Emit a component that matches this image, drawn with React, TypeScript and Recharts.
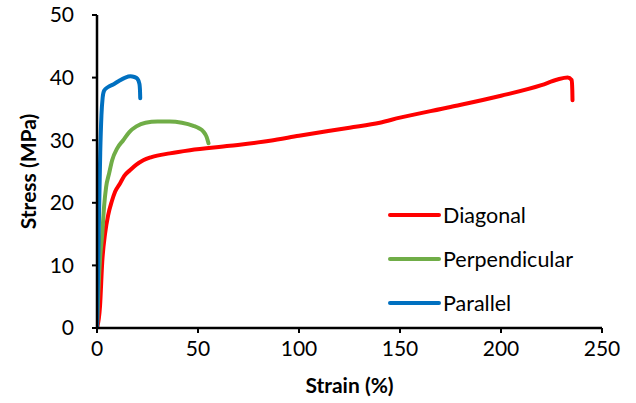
import { LineChart, Line, XAxis, YAxis, Legend, Label } from 'recharts'

// strain (%) / stress (MPa)
const diagonalStrain = [0, 1.5, 2.6, 4, 5.5, 7.3, 9, 11.4, 13.5, 16.3, 19.5, 22.9, 27, 36, 46, 65.8, 85.6, 100, 125, 140, 150, 175, 200, 220, 228, 233, 235, 235.3, 235.4]
const diagonalStress = [0, 3.5, 10.6, 15.1, 18, 20.2, 21.8, 23.1, 24.3, 25.2, 26.1, 26.8, 27.3, 27.9, 28.4, 29.1, 29.9, 30.7, 32, 32.8, 33.6, 35.3, 37.1, 38.8, 39.7, 40, 39.6, 38, 36.4]

const perpendicularStrain = [0, 0.7, 1.5, 2.6, 3.5, 4.5, 6, 7.5, 10, 13, 16, 19.5, 24, 30, 36, 42, 47.7, 50.5, 52.6, 54.3, 55.2]
const perpendicularStress = [0, 6, 11, 15, 19.4, 22.5, 24.7, 26.8, 28.7, 30, 31.3, 32.2, 32.8, 33, 33, 32.8, 32.3, 31.9, 31.4, 30.5, 29.5]

const parallelStrain = [0, 0.5, 1, 1.6, 2.2, 2.8, 3.5, 5.5, 8, 11, 14, 16.5, 18.5, 20, 21, 21.3, 21.4]
const parallelStress = [0, 8, 18, 28, 34, 36.8, 37.9, 38.5, 38.9, 39.5, 40, 40.2, 40.1, 39.8, 39, 37.8, 36.7]

const xTicks = [0, 50, 100, 150, 200, 250]
const yTicks = [0, 10, 20, 30, 40, 50]

const toPoints = (strain: number[], stress: number[]) =>
  strain.map((x, i) => ({ x, y: stress[i] }))

const series = [
  { name: 'Diagonal', color: '#FF0000', data: toPoints(diagonalStrain, diagonalStress) },
  { name: 'Perpendicular', color: '#70AD47', data: toPoints(perpendicularStrain, perpendicularStress) },
  { name: 'Parallel', color: '#0070C0', data: toPoints(parallelStrain, parallelStress) },
]

const FONT = 'Lato, sans-serif'
const axisLine = { stroke: '#000', strokeWidth: 2.5 }
const tickLine = { stroke: '#000', strokeWidth: 2 }
const tick = { fill: '#000', fontSize: 21, fontFamily: FONT }

function LegendBox() {
  // keep the legend in series order (recharts sorts by name otherwise)
  return (
    <div style={{ fontFamily: FONT, fontSize: 21.5, color: '#000' }}>
      {series.map((s) => (
        <div key={s.name} style={{ display: 'flex', alignItems: 'center', height: 44 }}>
          <svg width={53} height={8}>
            <line x1={2} y1={4} x2={51} y2={4} stroke={s.color} strokeWidth={4} strokeLinecap="round" />
          </svg>
          <span style={{ marginLeft: 2 }}>{s.name}</span>
        </div>
      ))}
    </div>
  )
}

export default function App() {
  return (
    <div style={{ position: 'absolute', left: 0, top: 0, background: '#fff' }}>
      <LineChart width={636} height={403} margin={{ top: 15, right: 34, bottom: 0, left: 0 }}>
        <XAxis
          type="number" dataKey="x" domain={[0, 250]} ticks={xTicks} allowDataOverflow
          height={75} tickSize={5} tickMargin={8} axisLine={axisLine} tickLine={tickLine} tick={tick}
        >
          <Label
            content={({ viewBox }: any) => (
              <text
                x={viewBox.x + viewBox.width / 2} y={viewBox.y + 56}
                textAnchor="middle" dominantBaseline="central"
                fontFamily={FONT} fontWeight="bold" fontSize={21} fill="#000"
              >
                Strain (%)
              </text>
            )}
          />
        </XAxis>
        <XAxis xAxisId="top" orientation="top" type="number" domain={[0, 250]} height={0}
          tick={false} tickLine={false} axisLine={axisLine} />
        <YAxis
          type="number" domain={[0, 50]} ticks={yTicks} allowDataOverflow
          width={97} tickSize={5} tickMargin={18} axisLine={axisLine} tickLine={tickLine} tick={tick}
        >
          <Label
            content={({ viewBox }: any) => {
              const cx = 27
              const cy = viewBox.y + viewBox.height / 2
              return (
                <text
                  x={cx} y={cy} transform={`rotate(-90, ${cx}, ${cy})`}
                  textAnchor="middle" dominantBaseline="central"
                  fontFamily={FONT} fontWeight="bold" fontSize={21} fill="#000"
                >
                  Stress (MPa)
                </text>
              )
            }}
          />
        </YAxis>
        <YAxis yAxisId="right" orientation="right" type="number" domain={[0, 50]} width={0}
          tick={false} tickLine={false} axisLine={axisLine} />
        <Legend
          layout="vertical" align="center" verticalAlign="middle"
          content={<LegendBox />}
          wrapperStyle={{ left: 388, top: 193, width: 230 }}
        />
        {series.map((s) => (
          <Line
            key={s.name} name={s.name} data={s.data} dataKey="y" type="monotone"
            stroke={s.color} strokeWidth={4} dot={false} activeDot={false}
            strokeLinejoin="round" strokeLinecap="round" isAnimationActive={false}
          />
        ))}
      </LineChart>
    </div>
  )
}
